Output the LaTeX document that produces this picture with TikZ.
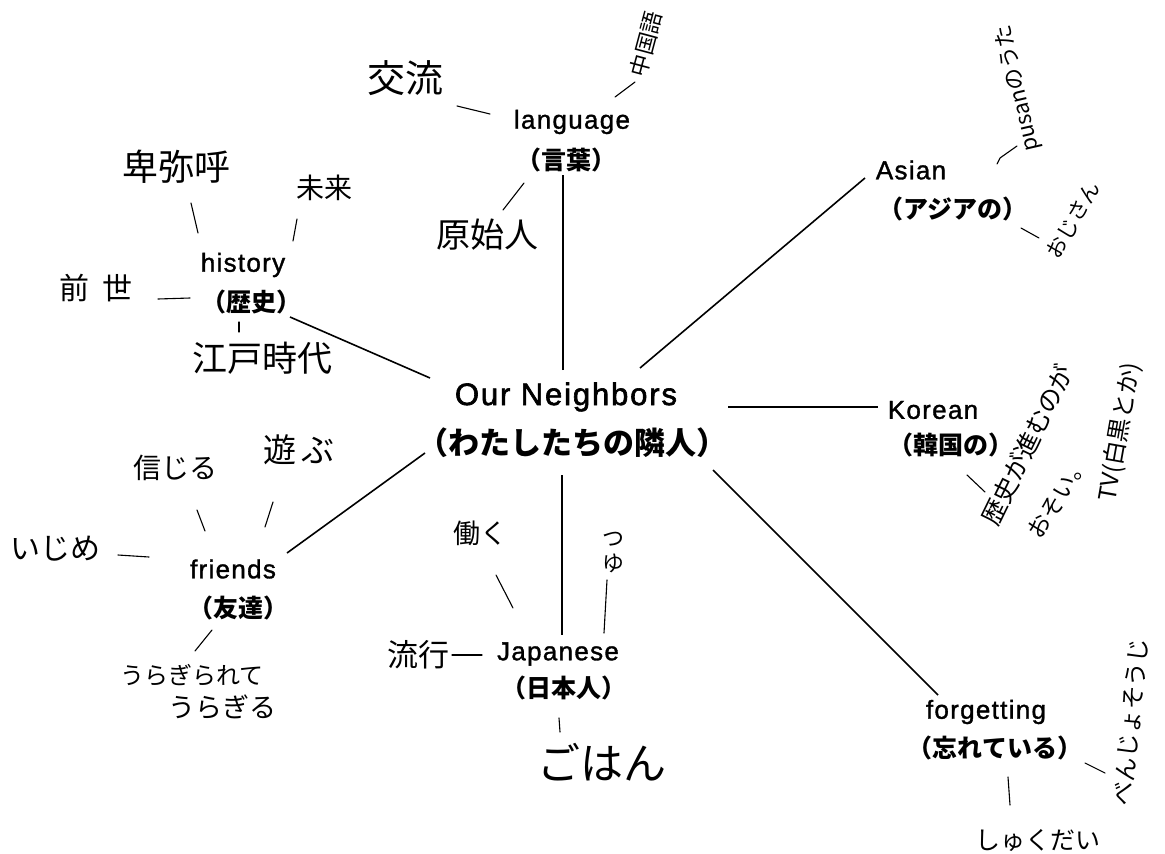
\documentclass[tikz,border=0pt]{standalone}
\usepackage{fontspec}
\setmainfont{Liberation Sans}
\newfontfamily\enf{Liberation Sans}[LetterSpace=5,FakeBold=1.3]
\newfontfamily\enmain{Liberation Sans}[LetterSpace=6,FakeBold=2]
\newfontfamily\jpf{Noto Sans CJK JP}
\tikzset{
  en/.style={inner sep=0pt, font=\enf\fontsize{26}{30}\selectfont},
  enbig/.style={inner sep=0pt, font=\enmain\fontsize{31}{35}\selectfont},
  jb/.style={inner sep=0pt, font=\jpf\bfseries\fontsize{25}{28}\selectfont},
  jbbig/.style={inner sep=0pt, font=\jpf\bfseries\fontsize{31}{34}\selectfont},
  hw/.style={inner sep=0pt, font=\jpf\fontsize{#1}{#1}\selectfont},
  link/.style={line width=1.6pt},
  tick/.style={line width=1.1pt, line cap=round},
}
\begin{document}
\begin{tikzpicture}[x=1pt,y=-1pt]
\fill[white] (0,0) rectangle (1165,854);
\useasboundingbox (0,0) rectangle (1165,854);

% main nodes
\node[enbig] (nbE) at (566,397) {Our Neighbors};
\node[jbbig] (nbJ) at (572,443) {（わたしたちの隣人）};
\node[en] (langE) at (572,122) {language};
\node[jb] (langJ) at (566,160) {（言葉）};
\node[en] (histE) at (243,265) {history};
\node[jb] (histJ) at (251,302) {（歴史）};
\node[en] (asianE) at (911,170) {Asian};
\node[jb] (asianJ) at (953,209) {（アジアの）};
\node[en] (korE) at (933,410) {Korean};
\node[jb] (korJ) at (951,445) {（韓国の）};
\node[en] (friE) at (233,569) {friends};
\node[jb] (friJ) at (238,608) {（友達）};
\node[en] (japE) at (558,654) {Japanese};
\node[jb] (japJ) at (564,688) {（日本人）};
\node[en] (forE) at (986,712) {forgetting};
\node[jb] (forJ) at (995,748) {（忘れている）};

% main connectors
\draw[link] ([shift={(-3,-27)}]nbE.center) -- ([shift={(-3,15)}]langJ.center);
\draw[link] ([shift={(-136,-19)}]nbE.center) -- ([shift={(39,15)}]histJ.center);
\draw[link] ([shift={(74,-29)}]nbE.center) -- ([shift={(-46,8)}]asianE.center);
\draw[link] ([shift={(162,10)}]nbE.center) -- ([shift={(-55,-3)}]korE.center);
\draw[link] ([shift={(-147,10)}]nbJ.center) -- ([shift={(54,-16)}]friE.center);
\draw[link] ([shift={(-10,32)}]nbJ.center) -- ([shift={(4,-19)}]japE.center);
\draw[link] ([shift={(141,27)}]nbJ.center) -- ([shift={(-48,-17)}]forE.center);

% handwritten notes
\node[hw=38] (hKouryu) at (405,78) {交流};
\node[hw=22, rotate=75] (hChugoku) at (646,44) {中国語};
\node[hw=34] (hGenshi) at (487,235) {原始人};
\node[hw=36] (hHimiko) at (176,167) {卑弥呼};
\node[hw=28] (hMirai) at (324,188) {未来};
\node[hw=30] (hZense) at (96,288) {前\hspace{14pt}世};
\node[hw=35] (hEdo) at (262,358) {江戸時代};
\node[hw=28] (hShinjiru) at (175,468) {信じる};
\node[hw=33] (hAsobu) at (299,450) {遊\hspace{6pt}ぶ};
\node[hw=30] (hIjime) at (55,549) {いじめ};
\node[hw=24] (hUra1) at (192,675) {うらぎられて};
\node[hw=27] (hUra2) at (222,707) {うらぎる};
\node[hw=27] (hHataraku) at (480,533) {働く};
\node[hw=22, align=center, font=\jpf\fontsize{22}{25}\selectfont] (hTsuyu) at (613,553) {つ\\ゆ};
\node[hw=31] (hRyuko) at (418,655) {流行};
\node[hw=43] (hGohan) at (602,762) {ごはん};
\node[hw=22, rotate=103] (hPusan) at (1018,88) {pusanのうた};
\node[hw=21, rotate=60] (hOjisan) at (1073,220) {おじさん};
\node[hw=25, rotate=64] (hK1) at (1027,445) {歴史が進むのが};
\node[hw=23, rotate=58] (hK2) at (1058,497) {おそい。};
\node[hw=24, rotate=80] (hK3) at (1120,432) {TV(白黒とか)};
\node[hw=24, rotate=84] (hBenjo) at (1131,722) {べんじょそうじ};
\node[hw=25] (hShukudai) at (1038,840) {しゅくだい};

% short strokes
\path (457,106) coordinate (a1) (490,114) coordinate (b1)
      (615,97) coordinate (a2) (635,82) coordinate (b2)
      (503,210) coordinate (a3) (524,183) coordinate (b3)
      (191,203) coordinate (a4) (198,233) coordinate (b4)
      (297,219) coordinate (a5) (293,241) coordinate (b5)
      (158,299) coordinate (a6) (190,298) coordinate (b6)
      (239,322) coordinate (a7) (239,332) coordinate (b7)
      (197,510) coordinate (a8) (205,531) coordinate (b8)
      (273,502) coordinate (a9) (265,527) coordinate (b9)
      (118,555) coordinate (a10) (149,557) coordinate (b10)
      (212,630) coordinate (a11) (195,651) coordinate (b11)
      (496,575) coordinate (a12) (513,608) coordinate (b12)
      (607,580) coordinate (a13) (604,633) coordinate (b13)
      (452,655) coordinate (a14) (482,655) coordinate (b14)
      (559,718) coordinate (a15) (560,732) coordinate (b15)
      (1017,146) coordinate (a16) (1000,158) coordinate (m16) (997,164) coordinate (b16)
      (1021,228) coordinate (a17) (1039,238) coordinate (b17)
      (967,475) coordinate (a18) (985,492) coordinate (b18)
      (1085,763) coordinate (a19) (1105,773) coordinate (b19)
      (1008,777) coordinate (a20) (1010,805) coordinate (b20);
\foreach \i in {1,...,15,17,18,19,20} \draw[tick] (a\i) -- (b\i);
\draw[tick] (a16) -- (m16) -- (b16);
\end{tikzpicture}
\end{document}
